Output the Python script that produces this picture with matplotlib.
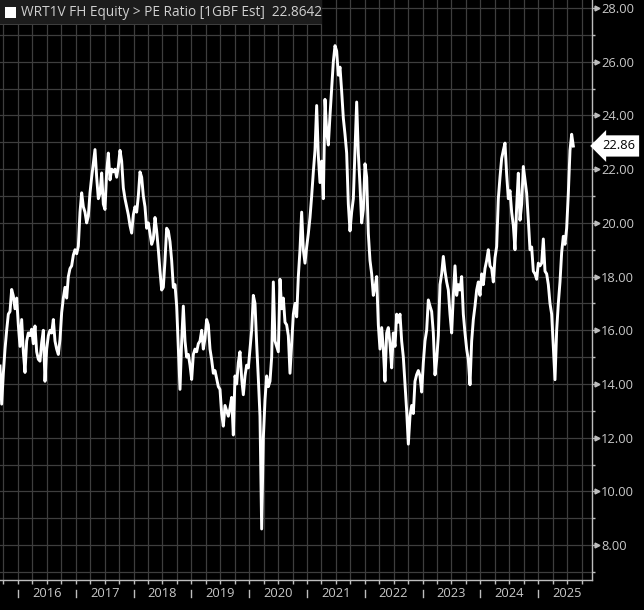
import numpy as np
import pandas as pd
import matplotlib
matplotlib.use("Agg")
import matplotlib.pyplot as plt
import matplotlib.dates as mdates
import matplotlib.transforms as mtransforms
from matplotlib.patches import Rectangle

# ---------------- data ----------------
start_date = "2015-09-09"
end_date = "2025-08-10"
axis_end_date = "2025-12-06"

pe_2015_2017 = [14.67, 13.25, 14.4, 15.29, 16.0, 16.6, 16.7, 17.52, 17.28, 16.8, 17.2, 16.2,
                15.4, 16.4, 15.2, 14.43, 15.6, 15.9, 15.8, 16.04, 15.5, 16.16, 15.2, 14.92,
                14.85, 15.54, 16.0, 14.1, 15.3, 15.8, 16.0, 15.9, 16.4, 15.6, 15.3, 15.1,
                15.66, 16.66, 17.2, 17.6, 17.2, 18.0, 18.3, 18.4, 18.8, 19.0, 18.85, 19.13,
                20.4, 21.12, 20.6, 20.4, 20.0, 20.25, 21.12, 21.7, 22.23, 22.73, 21.7, 20.9,
                21.1, 21.86, 20.7, 20.5, 21.9, 22.6, 21.6, 22.0, 21.9, 22.0, 21.7, 22.1]
pe_2017_2019 = [22.7, 22.3, 21.3, 20.9, 20.6, 20.3, 19.9, 19.62, 20.3, 20.6, 20.4, 21.0,
                21.9, 21.7, 21.0, 20.6, 19.8, 20.0, 19.6, 19.2, 19.4, 20.2, 19.7, 19.0,
                18.2, 17.5, 17.6, 18.6, 19.8, 19.7, 19.3, 18.6, 17.6, 17.7, 16.9, 15.3,
                13.8, 15.6, 16.9, 15.6, 15.0, 15.1, 14.7, 14.17, 15.1, 15.3, 15.2, 15.5,
                15.6, 16.0, 15.3, 15.7, 16.4, 16.2, 15.3, 14.9, 14.4, 14.5, 14.2, 13.9,
                13.8, 12.9, 12.43, 13.2, 13.0, 12.8, 13.1, 13.5, 12.1]
pe_2019_2021 = [14.3, 14.0, 14.8, 15.2, 14.2, 13.6, 14.3, 14.7, 14.6, 15.3, 16.0, 17.3,
                17.0, 15.5, 14.2, 12.8, 8.6, 12.0, 13.4, 14.3, 13.9, 14.1, 15.0, 17.8,
                15.6, 15.4, 15.2, 17.9, 16.8, 17.2, 16.3, 16.2, 15.8, 14.4, 15.5, 16.6,
                17.0, 16.5, 18.0, 19.0, 20.4, 19.0, 18.5, 19.1, 19.6, 20.2, 21.0, 21.9,
                22.7, 24.37, 22.5, 21.5, 22.3, 20.9, 24.6, 23.4, 22.9, 24.0, 25.0, 26.0,
                26.6, 26.4, 25.5, 25.8, 24.9, 23.9, 23.3, 22.6, 20.7]
pe_2021_2023 = [19.7, 20.4, 20.9, 22.7, 24.5, 22.6, 21.4, 20.0, 20.5, 22.2, 21.7, 19.6,
                18.6, 18.1, 17.3, 17.6, 18.0, 16.2, 15.3, 16.1, 15.3, 14.1, 15.9, 16.1,
                15.5, 14.6, 15.9, 15.4, 16.6, 16.3, 16.6, 15.6, 15.0, 14.0, 13.0, 11.76,
                12.8, 13.2, 12.9, 14.1, 14.35, 14.5, 14.3, 13.7, 14.8, 15.6, 16.0, 17.13,
                16.9, 16.7, 15.9, 14.34, 14.9, 15.8, 17.7, 18.1, 18.75, 18.2, 17.8, 17.5,
                16.6, 15.9, 17.3, 18.4, 17.3, 17.7, 17.5, 18.0, 16.6]
pe_2023_2025 = [15.9, 15.3, 14.9, 13.97, 15.6, 16.4, 16.9, 17.5, 17.8, 17.3, 18.1, 17.7,
                18.3, 18.6, 19.0, 18.4, 18.3, 17.8, 18.7, 19.12, 20.9, 21.7, 22.4, 22.7,
                22.97, 21.8, 20.9, 21.2, 20.4, 19.9, 19.0, 20.6, 21.85, 20.1, 20.7, 22.1,
                21.6, 21.1, 20.1, 19.0, 19.1, 18.2, 18.1, 17.9, 18.5, 18.4, 18.5, 19.4,
                18.2, 18.1, 17.7, 17.0, 16.6, 15.4, 14.16, 16.0, 17.0, 17.8, 18.9, 19.5,
                19.2, 19.8, 21.1, 22.7, 23.3, 22.86]

last_value = 22.8642
legend_text = "WRT1V FH Equity > PE Ratio [1GBF Est]"
years = list(range(2016, 2026))
y_major = np.arange(8, 29, 2)
y_minor = np.arange(7, 29, 2)
y_limits = (6.7, 28.3)

pe_values = pe_2015_2017 + pe_2017_2019 + pe_2019_2021 + pe_2021_2023 + pe_2023_2025
dates = pd.date_range(start_date, end_date, periods=len(pe_values))

# ---------------- style ----------------
W, H = 644, 610
grid_c = "#3e3e3e"
axis_c = "#bdbdbd"
text_c = "#c8c8c8"
font = "Open Sans"

fig = plt.figure(figsize=(W / 100, H / 100), dpi=100, facecolor="black")
ax = fig.add_axes([0, 1 - 580 / H, 592 / W, 580 / H])
ax.set_facecolor("black")

ax.plot(dates, pe_values, color="white", lw=2.1, solid_joinstyle="round", zorder=3)

ax.set_xlim(dates[0], pd.Timestamp(axis_end_date))
ax.set_ylim(*y_limits)

# spines
for s in ("top", "left"):
    ax.spines[s].set_visible(False)
for s in ("right", "bottom"):
    ax.spines[s].set_color(axis_c)
    ax.spines[s].set_linewidth(1.0)

# y axis on the right
ax.yaxis.tick_right()
ax.set_yticks(y_major)
ax.set_yticklabels([f"{v:.2f}" for v in y_major], fontfamily=font, fontsize=9.3, color=text_c)
ax.set_yticks(y_minor, minor=True)
ax.tick_params(axis="y", which="major", length=3, width=1, color=axis_c, pad=3.5)
ax.tick_params(axis="y", which="minor", length=2.5, width=1, color=axis_c)
ax.grid(True, axis="y", which="both", color=grid_c, lw=0.9, zorder=0)

# triangles on major ticks
tri_trans = mtransforms.offset_copy(
    mtransforms.blended_transform_factory(ax.transAxes, ax.transData), fig=fig, x=4.5, y=0, units="dots")
ax.plot([1.0] * len(y_major), y_major, ls="none", marker=">", ms=3.5, color=axis_c,
        transform=tri_trans, clip_on=False)

# x axis: quarterly ticks and grid
ax.xaxis.set_major_locator(mdates.MonthLocator(bymonth=[1, 4, 7, 10]))
ax.xaxis.set_major_formatter(plt.NullFormatter())
ax.tick_params(axis="x", which="major", length=3, width=1, color=axis_c, direction="out")
ax.grid(True, axis="x", which="major", color=grid_c, lw=0.9, zorder=0)

xt = mtransforms.blended_transform_factory(ax.transData, ax.transAxes)
for y in years:
    ax.text(pd.Timestamp(f"{y}-07-01"), -0.0225, str(y), transform=xt, ha="center", va="center",
            fontfamily=font, fontsize=9.3, color=text_c, clip_on=False)
    jan = mdates.date2num(pd.Timestamp(f"{y}-01-01"))
    ax.plot([jan, jan], [-0.0165, -0.0295], transform=xt, color=axis_c, lw=1, clip_on=False)

# last value tag
yt = mtransforms.blended_transform_factory(ax.transAxes, ax.transData)
ax.text(1.0 + 10 / 592, last_value, f"{last_value:.2f}", transform=yt, ha="left", va="center",
        fontfamily=font, fontsize=9.3, color="black", clip_on=False, zorder=6,
        bbox=dict(boxstyle="larrow,pad=0.32", fc="white", ec="none"))

# legend box (top-left)
fig.add_artist(Rectangle((0, 1 - 25 / H), 322 / W, 25 / H, transform=fig.transFigure,
                         fc="#1c1c1c", ec="none", zorder=5))
fig.add_artist(Rectangle((0, 1 - 25 / H), 322 / W, 1 / H, transform=fig.transFigure,
                         fc=grid_c, ec="none", zorder=5))
fig.add_artist(Rectangle((5 / W, 1 - 18 / H), 11 / W, 11 / H, transform=fig.transFigure,
                         fc="white", ec="none", zorder=6))
fig.text(21 / W, 1 - 12.5 / H, f"{legend_text}  {last_value:.4f}", ha="left", va="center",
         fontfamily=font, fontsize=9.8, color="#d0d0d0", zorder=7)

fig.savefig("out.png", dpi=100, facecolor="black")
